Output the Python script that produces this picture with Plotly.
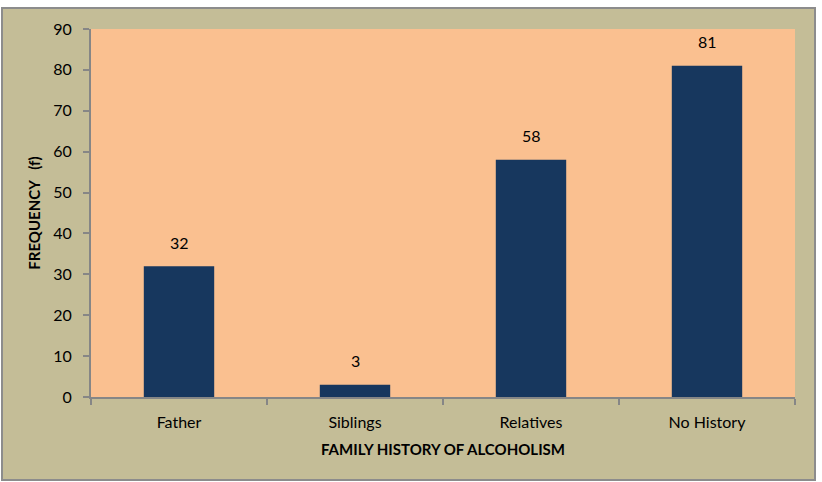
import plotly.graph_objects as go

categories = ["Father", "Siblings", "Relatives", "No History"]
values = [32, 3, 58, 81]
y_ticks = [0, 10, 20, 30, 40, 50, 60, 70, 80, 90]

W, H = 822, 482
L, R, T, B = 91, 27, 29, 85
pw, ph = W - L - R, H - T - B

def px_x(p):
    return (p - L) / pw

def px_y(p):
    return (H - B - p) / ph

FONT = "Lato, Carlito, sans-serif"

fig = go.Figure()
fig.add_trace(go.Bar(
    x=categories, y=values, width=0.4,
    marker=dict(color="#17375E", line=dict(width=0)),
    hoverinfo="skip",
))

for c, v in zip(categories, values):
    fig.add_annotation(x=c, y=v, text=str(v), showarrow=False, yshift=24,
                       font=dict(family=FONT, size=16, color="#000000"))

# outer chart area
fig.add_shape(type="rect", xref="paper", yref="paper",
              x0=px_x(2), x1=px_x(815), y0=px_y(480), y1=px_y(8),
              fillcolor="#C4BD97", line=dict(color="#8C8C8C", width=2), layer="below")
# plot area
fig.add_shape(type="rect", xref="paper", yref="paper",
              x0=0, x1=1, y0=0, y1=1,
              fillcolor="#FAC090", line=dict(width=0), layer="below")

fig.update_layout(
    width=W, height=H,
    margin=dict(l=L, r=R, t=T, b=B),
    paper_bgcolor="#FFFFFF",
    plot_bgcolor="rgba(0,0,0,0)",
    showlegend=False,
    font=dict(family=FONT, size=16, color="#000000"),
)
fig.update_xaxes(
    showline=True, linecolor="#868686", linewidth=2,
    ticks="outside", tickson="boundaries", ticklen=6, tickcolor="#868686", tickwidth=2,
    ticklabelstandoff=10,
    showgrid=False, zeroline=False,
    tickfont=dict(size=16),
    title=dict(text="<b>FAMILY HISTORY OF ALCOHOLISM</b>", font=dict(size=15), standoff=14),
)
fig.update_yaxes(
    range=[0, 90], tickvals=y_ticks,
    showline=True, linecolor="#868686", linewidth=2,
    ticks="outside", ticklen=6, tickcolor="#868686", tickwidth=2,
    ticklabelstandoff=8,
    showgrid=False, zeroline=False,
    tickfont=dict(size=16),
    title=dict(text="<b>FREQUENCY&nbsp;&nbsp;&nbsp;(f)</b>", font=dict(size=15), standoff=9),
)

fig.write_html("out.html")
